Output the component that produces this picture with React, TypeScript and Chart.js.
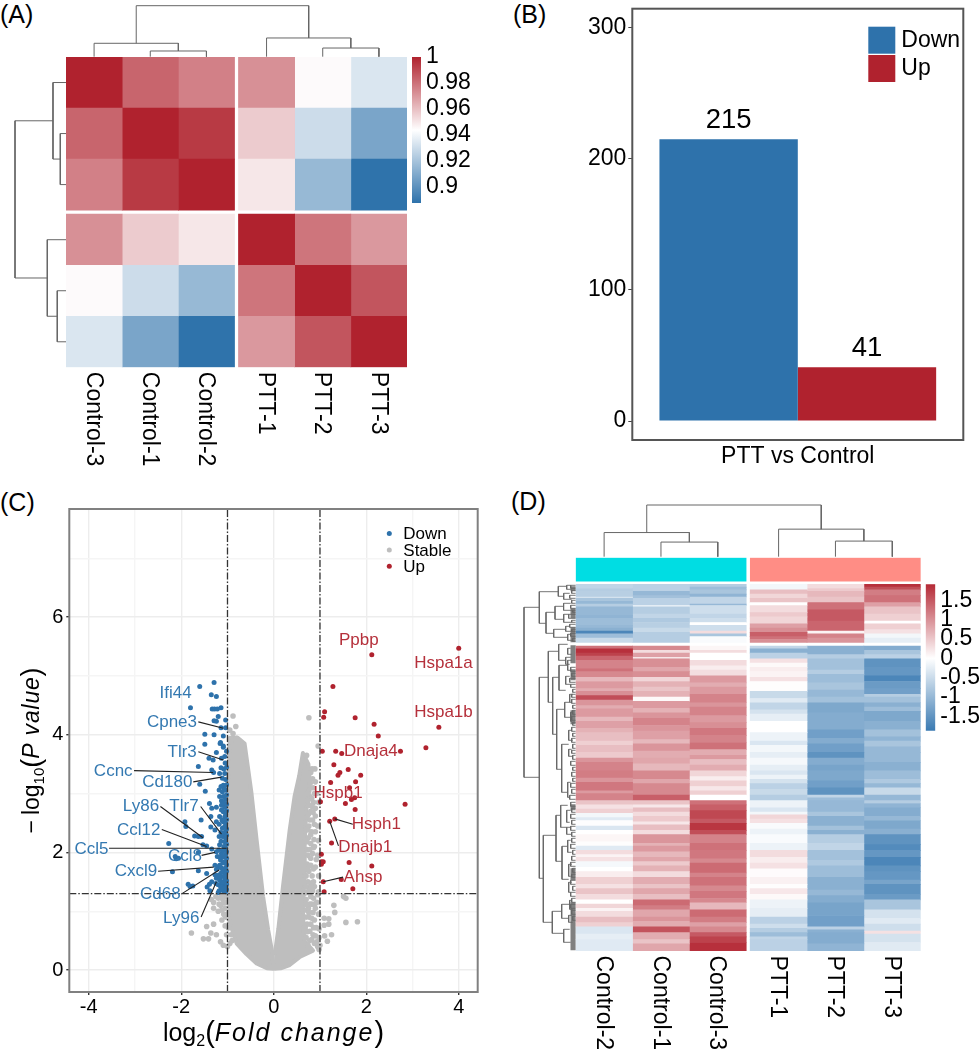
import React, { useEffect, useRef } from "react";
import { Chart, registerables } from "chart.js";

Chart.register(...registerables);

const FONT = '"Liberation Sans", Arial, sans-serif';
const BLUE = "#2E72AB";
const RED = "#B0222E";
const GRAY = "#BEBEBE";

/* ---------- Panel A ---------- */
const sampleLabelsA = ["Control-3", "Control-1", "Control-2", "PTT-1", "PTT-2", "PTT-3"];
const correlationA = [
  [1, 0.983, 0.976, 0.972, 0.945, 0.934],
  [0.983, 1, 0.994, 0.957, 0.93, 0.908],
  [0.976, 0.994, 1, 0.95, 0.916, 0.888],
  [0.972, 0.957, 0.95, 1, 0.979, 0.97],
  [0.945, 0.93, 0.916, 0.979, 1, 0.987],
  [0.934, 0.908, 0.888, 0.97, 0.987, 1],
];
const colCentersSix = [0.5, 1.5, 2.5, 3.57, 4.57, 5.57];
const rowEdgesA = [0, 1, 2, 3.08, 4.08, 5.08];
const treeTopA = [
  [1.5, 0, 2.5, 0, 0.112],
  [0.5, 0, 2.0, 0.112, 0.263],
  [4.57, 0, 5.57, 0, 0.17],
  [3.57, 0, 5.07, 0.17, 0.367],
  [1.25, 0.263, 4.32, 0.367, 1],
];
const treeLeftA = [
  [1.5, 0, 2.5, 0, 0.112],
  [0.5, 0, 2.0, 0.112, 0.255],
  [4.58, 0, 5.58, 0, 0.171],
  [3.58, 0, 5.08, 0.171, 0.367],
  [1.25, 0.255, 4.33, 0.367, 1],
];
const scaleA = [0.8877, 1];
const scaleMidA = 0.9438;

/* ---------- Panel B ---------- */
const categoriesB = ["PTT vs Control"];
const downCount = [215];
const upCount = [41];

/* ---------- Panel C ---------- */
const thresholdX = [-1, 1];
const thresholdY = 1.3;
const rangeXC = [-4.42, 4.41];
const rangeYC = [-0.374, 7.84];
const upPoints = [
  [4.0, 5.47], [2.12, 5.36], [1.28, 4.82], [1.1, 4.39], [1.08, 4.3], [1.76, 4.29], [2.17, 4.18], [3.57, 4.13], [2.26, 3.98],
  [3.29, 3.78], [1.05, 3.72], [1.34, 3.72], [1.47, 3.68], [2.74, 3.72], [1.3, 3.49], [1.61, 3.41], [1.43, 3.36], [1.39, 3.31],
  [1.88, 3.31], [1.77, 3.2], [1.23, 3.19], [1.64, 3.1], [1.75, 2.93], [1.68, 2.9], [1.55, 2.83], [1.01, 2.86], [2.84, 2.82],
  [1.76, 2.73], [1.32, 2.57], [1.21, 2.53], [1.25, 2.16], [1.03, 1.97], [1.03, 1.84], [1.07, 1.84], [1.03, 1.8], [1.63, 1.83],
  [2.12, 1.77], [1.46, 1.54], [1.07, 1.5], [1.71, 1.38], [1.09, 1.33],
];
const downPoints = [
  [-1.6, 4.82], [-1.29, 4.89], [-1.35, 4.68], [-1.24, 4.65], [-1.8, 4.46], [-1.33, 4.44], [-1.28, 4.44], [-1.22, 4.44], [-1.14, 4.46],
  [-1.2, 4.31], [-1.29, 4.24], [-1.24, 4.23], [-1.04, 4.25], [-1.14, 4.12], [-1.04, 4.12], [-1.49, 4.01], [-1.29, 4.0], [-1.09, 3.98],
  [-1.49, 3.84], [-1.15, 3.87], [-1.09, 3.81], [-1.16, 3.85], [-1.09, 3.79], [-1.24, 3.7], [-1.13, 3.6], [-1.06, 3.63], [-1.31, 3.57],
  [-1.4, 3.6], [-1.63, 3.46], [-1.34, 3.4], [-1.3, 3.36], [-1.17, 3.34], [-1.06, 3.34], [-1.11, 3.26], [-1.04, 3.24], [-1.6, 3.16],
  [-1.09, 3.14], [-1.18, 3.06], [-1.11, 3.03], [-1.04, 3.06], [-1.48, 3.04], [-1.17, 2.95], [-1.09, 2.95], [-1.04, 2.9], [-1.39, 2.83],
  [-1.24, 2.77], [-1.13, 2.8], [-1.06, 2.77], [-1.34, 2.75], [-1.09, 2.69], [-1.04, 2.64], [-1.17, 2.61], [-1.57, 2.55], [-1.92, 2.52],
  [-1.9, 2.44], [-1.36, 2.61], [-1.24, 2.52], [-1.09, 2.52], [-1.04, 2.49], [-1.36, 2.43], [-1.27, 2.38], [-1.11, 2.41], [-1.04, 2.35],
  [-1.71, 2.28], [-1.63, 2.27], [-1.56, 2.27], [-1.18, 2.27], [-1.11, 2.27], [-1.04, 2.24], [-2.27, 2.15], [-1.53, 2.13], [-1.45, 2.11],
  [-1.34, 2.06], [-1.17, 2.13], [-1.08, 2.1], [-1.04, 2.07], [-2.11, 1.89], [-2.13, 1.93], [-2.06, 1.9], [-1.63, 2.0], [-1.24, 2.01],
  [-1.13, 1.98], [-1.04, 1.96], [-1.22, 1.93], [-1.15, 1.87], [-1.06, 1.84], [-1.27, 1.78], [-1.2, 1.75], [-1.24, 1.71], [-1.17, 1.78],
  [-1.04, 1.73], [-1.09, 1.67], [-1.63, 1.69], [-2.19, 1.67], [-1.45, 1.64], [-1.18, 1.62], [-1.09, 1.59], [-1.04, 1.62], [-1.24, 1.56],
  [-1.17, 1.53], [-1.06, 1.53], [-1.34, 1.5], [-1.39, 1.46], [-1.85, 1.46], [-1.81, 1.42], [-1.75, 1.43], [-1.2, 1.45], [-1.11, 1.45],
  [-1.04, 1.42], [-1.44, 1.41], [-1.38, 1.35], [-1.18, 1.35], [-1.09, 1.35], [-1.2, 1.32], [-1.04, 1.33],
  [-1.02, 3.72], [-1.05, 3.52], [-1.02, 3.45], [-1.08, 3.42], [-1.14, 3.44], [-1.02, 3.15], [-1.07, 3.08], [-1.14, 3.12], [-1.02, 2.98],
  [-1.13, 2.88], [-1.02, 2.82], [-1.09, 2.84], [-1.02, 2.71], [-1.13, 2.72], [-1.06, 2.6], [-1.12, 2.55], [-1.02, 2.56], [-1.18, 2.48],
  [-1.06, 2.44], [-1.02, 2.4], [-1.14, 2.34], [-1.07, 2.33], [-1.02, 2.29], [-1.14, 2.19], [-1.06, 2.18], [-1.02, 2.14], [-1.1, 2.03],
  [-1.02, 2.01], [-1.19, 2.04], [-1.09, 1.92], [-1.02, 1.9], [-1.17, 1.92], [-1.1, 1.82], [-1.02, 1.79], [-1.14, 1.74], [-1.07, 1.72],
  [-1.13, 1.66], [-1.02, 1.68], [-1.16, 1.58], [-1.06, 1.58], [-1.13, 1.5], [-1.02, 1.52], [-1.09, 1.49], [-1.15, 1.42], [-1.02, 1.46],
  [-1.07, 1.39], [-1.13, 1.38], [-1.02, 1.37], [-1.25, 1.47], [-1.27, 1.62],
];
const grayScatter = [
  [0.76, 4.29], [0.96, 3.81], [0.71, 3.65], [0.68, 3.55], [0.89, 3.42], [0.8, 3.36], [0.9, 3.2], [0.85, 3.1], [0.93, 3.0], [0.78, 2.95],
  [0.97, 2.85], [0.8, 2.7], [0.9, 2.62], [0.72, 2.6], [0.95, 2.45], [0.82, 2.35], [0.97, 2.2], [0.75, 2.25], [0.88, 2.1], [0.95, 1.95],
  [0.8, 1.9], [0.72, 1.8], [0.9, 1.75], [0.83, 1.6], [0.97, 1.6], [0.74, 1.5], [0.88, 1.42], [0.97, 1.33], [0.8, 1.25], [0.7, 1.2],
  [0.93, 1.15], [0.75, 1.05], [0.85, 0.98], [0.97, 0.95], [0.7, 0.9], [0.8, 0.78], [0.92, 0.72], [0.72, 0.65], [0.85, 0.6], [0.98, 0.55],
  [0.78, 0.5], [0.93, 0.48], [1.09, 0.88], [1.19, 0.87], [1.19, 0.78], [1.09, 0.76], [1.1, 0.58], [1.25, 0.6], [1.16, 0.49], [1.32, 0.98],
  [1.3, 1.1], [1.56, 0.81], [1.81, 0.82], [1.56, 1.22], [1.51, 1.25],
  [0.84, 3.25], [0.76, 3.05], [0.86, 2.85], [0.76, 2.8], [0.84, 2.55], [0.76, 2.45], [0.9, 2.35], [0.8, 2.15], [0.72, 2.05], [0.84, 1.98],
  [0.76, 1.68], [0.7, 1.6], [0.78, 1.42], [0.72, 1.32], [0.86, 1.22], [0.78, 1.12], [0.7, 1.02], [0.88, 0.85], [0.76, 0.9], [0.98, 0.7],
  [0.88, 0.45], [0.95, 0.4], [0.74, 0.42], [1.0, 0.42], [0.9, 1.05], [0.95, 1.28], [0.86, 1.5], [0.92, 1.88], [0.87, 2.22], [0.9, 2.75],
  [0.73, 3.3], [0.79, 3.18], [0.88, 3.0], [0.82, 2.92], [0.74, 2.88], [0.83, 2.78], [0.75, 2.65], [0.85, 2.68], [0.78, 2.55], [0.88, 2.48],
  [0.74, 2.38], [0.8, 2.3], [0.72, 2.18], [0.78, 2.05], [0.86, 2.08], [0.74, 1.95], [0.8, 1.78], [0.86, 1.72], [0.74, 1.72], [0.7, 1.42],
  [0.82, 1.48], [0.76, 1.35], [0.84, 1.35], [0.7, 1.12], [0.82, 1.12], [0.88, 1.12], [0.76, 0.98], [0.82, 0.88], [0.72, 0.78], [0.86, 0.72],
  [0.78, 0.66], [0.7, 0.55], [0.82, 0.52], [0.9, 0.58], [0.98, 0.35], [0.68, 0.72], [0.66, 1.3], [0.7, 2.4], [0.74, 3.0], [0.83, 3.42],
  [-0.88, 4.32], [-0.82, 4.14], [-0.95, 4.08], [-0.88, 4.02], [-0.8, 3.94], [-0.92, 3.88], [-0.75, 3.9], [-1.78, 0.63], [-1.52, 0.53],
  [-1.41, 0.53], [-1.36, 0.63], [-1.24, 0.6], [-1.45, 0.74], [-1.3, 0.78], [-1.09, 0.42], [-1.15, 0.48], [-1.0, 0.4], [-0.95, 0.45],
  [-1.2, 1.0], [-1.15, 1.1], [-1.3, 1.15], [-1.25, 1.25], [-1.1, 1.2], [-1.08, 0.95], [-1.05, 0.75], [-1.12, 0.85], [-1.35, 1.2],
  [-0.92, 0.6], [-1.02, 0.6], [-1.05, 1.25], [-1.12, 1.27], [-1.2, 1.22], [-1.3, 1.05], [-1.18, 1.12], [-1.05, 1.05], [-1.12, 1.02],
  [-1.04, 0.9], [-0.98, 0.72], [-0.9, 0.5], [-1.02, 1.15], [-1.08, 1.14],
];
// Outlines of the dense grey wedges. First/last vertices are the x extremes.
const grayLeftOutline = [
  [-1.0, 1.2], [-1.0, 3.0], [-0.95, 3.95], [-0.78, 3.95], [-0.63, 3.85], [-0.55, 3.4], [-0.48, 3.0], [-0.37, 2.21], [-0.23, 1.25],
  [-0.12, 0.68], [-0.02, 0.25], [-0.01, 0.02], [-0.15, 0.03], [-0.37, 0.11], [-0.59, 0.27], [-0.8, 0.45], [-0.95, 0.8], [-0.995, 1.0],
];
const grayRightOutline = [
  [0.02, 0.25], [0.1, 0.7], [0.2, 1.42], [0.345, 2.38], [0.45, 2.95], [0.55, 3.3], [0.63, 3.69], [0.75, 3.5], [0.78, 3.18], [0.71, 2.78],
  [0.67, 2.2], [0.67, 1.64], [0.63, 1.02], [0.66, 0.5], [0.85, 0.33], [0.56, 0.22], [0.345, 0.085], [0.15, 0.03], [0.01, 0.02],
];
const leaderSegments = [
  [-1.63, 4.22, -1.09, 4.11], [-1.63, 3.71, -1.09, 3.57], [-3.02, 3.39, -1.31, 3.36], [-1.74, 3.2, -1.13, 3.28], [-2.45, 2.78, -1.53, 2.25],
  [-1.58, 2.78, -1.13, 2.31], [-2.42, 2.39, -1.45, 2.1], [-3.56, 2.07, -1.02, 2.07], [-1.56, 1.95, -1.27, 2.0], [-2.5, 1.68, -1.3, 1.75],
  [-2.0, 1.29, -1.18, 1.7], [-1.57, 0.9, -1.24, 1.5], [1.32, 2.57, 1.71, 2.48], [1.21, 2.53, 1.4, 2.11], [1.07, 1.5, 1.5, 1.58],
];
const downGeneLabels: [string, number, number][] = [
  ["Ifi44", -2.12, 4.71], ["Cpne3", -2.2, 4.21], ["Tlr3", -1.98, 3.7], ["Ccnc", -3.47, 3.38], ["Cd180", -2.3, 3.2], ["Ly86", -2.87, 2.78],
  ["Tlr7", -1.94, 2.79], ["Ccl12", -2.92, 2.38], ["Ccl5", -3.94, 2.06], ["Ccl8", -1.92, 1.94], ["Cxcl9", -2.98, 1.68], ["Cd68", -2.45, 1.29],
  ["Ly96", -2.0, 0.88],
];
const upGeneLabels: [string, number, number][] = [
  ["Ppbp", 1.84, 5.6], ["Hspa1a", 3.67, 5.22], ["Hspa1b", 3.67, 4.38], ["Dnaja4", 2.1, 3.72], ["Hspb1", 1.39, 3.0], ["Hsph1", 2.22, 2.48],
  ["Dnajb1", 1.98, 2.08], ["Ahsp", 1.93, 1.57],
];

/* ---------- Panel D ---------- */
const sampleLabelsD = ["Control-2", "Control-1", "Control-3", "PTT-1", "PTT-2", "PTT-3"];
const ctrl2Top = [[3, -0.5], [2, -0.6], [4, -0.58], [1, -0.35], [2, -0.7], [2, -0.85], [2, -0.6], [6, -0.85], [2, -0.9], [5, -0.8], [2, -0.85], [2, -0.95], [2, -1.45], [3, -0.8], [3, -0.45]];
const ctrl1Top = [[5, -0.55], [3, -0.85], [2, -0.75], [5, -0.55], [1, -0.15], [5, -0.6], [3, -0.5], [3, -0.65], [4, -0.58], [3, -0.45], [7, -0.6]];
const ctrl3Top = [[2, -0.6], [2, -0.8], [3, -0.7], [2, -0.9], [5, -0.5], [1, -0.85], [6, -0.4], [3, -0.5], [3, -0.4], [2, 0], [4, -0.4], [2, 0.3], [2, -0.7], [4, -0.05]];
const ptt1Top = [[4, -0.1], [3, 0.55], [3, 0.35], [3, 0.5], [2, 0], [5, 0.3], [3, 0.45], [5, 0.35], [3, 0.8], [3, 0.95], [3, 1.35], [2, 1.2], [2, 0.95]];
const ptt2Top = [[3, 0.3], [2, 0.45], [4, 0.6], [4, 0.5], [5, 1.2], [8, 1.4], [7, 1.3], [2, 0.1], [3, 1.05], [3, 0.9]];
const ptt3Top = [[2, 1.75], [2, 1.5], [4, 1.1], [5, 1.2], [3, 0.8], [5, 0.5], [5, 0.4], [2, 0], [4, 0.4], [3, 0.25], [3, -0.1], [3, -0.2]];
const ctrl2Bottom = [[2, 1.2], [3, 1.75], [2, 1.6], [3, 1.3], [6, 1.05], [2, 1.2], [4, 1.0], [3, 0.6], [5, 0.85], [2, 0.7], [3, 0.95], [3, 1.5], [4, 0.9], [2, 0.7], [6, 0.85], [3, 0.6], [5, 0.8], [3, 0.65], [6, 0.55], [3, 0.4], [5, 0.55], [4, 0.45], [3, 0.9], [6, 1.05], [5, 1.1], [3, 0.9], [6, 1.15], [2, 0.85], [5, 1.05], [3, 0.5], [3, 0.25], [3, 0.4], [3, -0.1], [2, -0.25], [4, -0.02], [3, -0.3], [3, 0], [5, 0.08], [3, 0.02], [3, -0.25], [3, 0.3], [2, 0.1], [3, 0.25], [4, -0.08], [3, 0], [4, 0.15], [5, 0.4], [3, 0.25], [4, 0.5], [4, 0.3], [3, 0], [3, 0.35], [2, 0.1], [4, 0.3], [4, 0.55], [3, 0.4], [5, -0.3], [4, -0.2], [8, -0.25]];
const ctrl1Bottom = [[3, 1.0], [2, 0.3], [3, 0.8], [1, 0.2], [6, 0.95], [3, 0.75], [4, 0.95], [3, 0.35], [4, 0.65], [3, 0.5], [4, 0.65], [3, 0.05], [5, 0.85], [3, 0.65], [4, 0.9], [5, 1.05], [4, 0.9], [6, 0.8], [3, 0.6], [5, 0.9], [5, 0.7], [4, 0.75], [5, 0.6], [6, 1.0], [3, 0.75], [8, 1.0], [4, 1.35], [3, 0.5], [2, 0.2], [3, 0.55], [3, 0.3], [4, 0.45], [2, 0.2], [4, 0.55], [3, 0.3], [6, 0.9], [2, 0.65], [4, 0.85], [4, 0.6], [3, 0.75], [3, 0.45], [4, 0.65], [4, 0.3], [5, 0.7], [3, 0.5], [4, 0.75], [4, 0.55], [4, 1.25], [3, 1.1], [5, 0.75], [3, 0.9], [4, 0.7], [4, 1.45], [5, 0.7], [3, 0.5], [5, 0.75]];
const ctrl3Bottom = [[3, 0.08], [2, 0.3], [5, 0], [4, 0.3], [3, 0.15], [4, 0.28], [5, 0.85], [3, 0.7], [5, 0.85], [6, 1.05], [3, 0.9], [6, 1.05], [5, 0.85], [4, 0.95], [5, 1.15], [5, 1.05], [5, 1.2], [4, 0.7], [3, 0.85], [4, 0.55], [4, 0.7], [4, 0.35], [3, 0.15], [4, 0.4], [3, 0.2], [3, 0.4], [4, 0], [3, 1.2], [4, 1.35], [6, 1.55], [3, 1.4], [5, 1.7], [3, 1.5], [6, 1.05], [5, 1.2], [6, 1.15], [3, 1.0], [7, 1.25], [3, 1.05], [6, 1.2], [4, 1.0], [5, 1.15], [3, 1.0], [5, 0.6], [5, 1.25], [4, 1.1], [3, 0.8], [4, 1.0], [3, 1.4], [4, 1.6], [6, 1.75]];
const ptt1Bottom = [[2, -0.5], [3, -0.95], [4, -0.55], [3, 0.25], [3, 0.05], [3, 0.15], [4, 0.1], [3, 0.25], [7, 0.02], [5, -0.45], [3, -0.25], [5, -0.5], [3, -0.35], [5, -0.2], [8, 0], [6, -0.15], [3, -0.3], [5, -0.1], [4, -0.2], [5, -0.08], [4, -0.2], [3, -0.3], [3, -0.15], [3, -0.35], [4, -0.55], [4, -0.45], [4, -0.6], [5, -0.15], [3, -0.3], [2, -0.1], [3, 0.35], [3, 0.25], [4, -0.05], [4, -0.15], [6, -0.05], [5, -0.15], [5, 0.3], [4, 0.15], [4, 0.25], [6, 0.03], [5, 0.12], [3, 0.02], [4, 0.2], [4, 0.05], [6, -0.15], [6, -0.2], [5, -0.55], [3, -0.4], [3, -0.6], [3, -0.8], [2, -0.5], [8, -0.55]];
const ptt2Bottom = [[6, -0.95], [3, -0.6], [8, -0.75], [3, -0.6], [6, -0.8], [5, -0.7], [5, -0.85], [4, -0.75], [7, -1.05], [5, -1.0], [7, -1.0], [6, -1.15], [4, -1.0], [6, -1.15], [4, -1.3], [5, -1.0], [4, -1.1], [7, -1.05], [5, -1.15], [5, -1.3], [2, -0.5], [2, -0.8], [8, -0.85], [3, -0.7], [7, -0.95], [3, -0.75], [3, -0.95], [6, -0.6], [5, -0.5], [7, -0.75], [4, -0.65], [8, -0.8], [9, -0.95], [4, -0.85], [5, -1.0], [9, -1.1], [8, -1.15], [2, -0.55], [2, -0.95], [8, -1], [5, -0.9]];
const ptt3Bottom = [[3, -1.0], [3, -0.7], [3, -0.55], [6, -1.3], [6, -1.25], [4, -1.45], [5, -1.2], [4, -1.15], [2, -0.6], [4, -0.75], [3, -0.95], [3, -0.8], [7, -1.05], [6, -0.95], [5, -0.75], [3, -0.9], [4, -0.7], [4, -0.85], [7, -0.85], [6, -0.95], [6, -0.8], [3, -0.65], [3, -0.85], [5, -0.45], [4, -0.85], [2, -0.6], [3, -0.9], [6, -1.0], [3, -0.85], [6, -1.05], [4, -0.95], [7, -1.3], [4, -1.4], [5, -1.25], [6, -1.45], [4, -1.3], [6, -1.25], [3, -1.1], [7, -1.3], [4, -1.2], [7, -0.7], [6, -0.35], [4, -0.25], [5, -0.4], [2, 0.25], [6, -0.35], [6, -0.25]];
const topBlocksD = [ctrl2Top, ctrl1Top, ctrl3Top, ptt1Top, ptt2Top, ptt3Top];
const bottomBlocksD = [ctrl2Bottom, ctrl1Bottom, ctrl3Bottom, ptt1Bottom, ptt2Bottom, ptt3Bottom];
const rowGapD = 2.6;
const groupBandRows = [-18.7, -2.1];
const groupColours = ["#00DDE3", "#FF8D85"];
const groupCenters = [1.5, 4.57];
const treeTopD = [
  [1.5, 0, 2.5, 0, 0.283],
  [0.5, 0, 2.0, 0.283, 0.467],
  [4.57, 0, 5.57, 0, 0.302],
  [3.57, 0, 5.07, 0.302, 0.533],
  [1.25, 0.467, 4.32, 0.533, 1],
];
// tree merges: [height, y of child 1, height of child 1, y of child 2, height of child 2]
const treeLeftD = [
  [51.7, 23, 36.4, 193, 36.4], [36.4, 7.4, 17.4, 39, 29.7], [17.4, 2, 9, 12, 12], [29.7, 28, 20.7, 49, 22], [20.7, 22, 12, 35, 12],
  [22, 45, 10, 53, 8], [36.4, 93, 27.4, 294, 32.4], [27.4, 67, 17, 118, 23], [17, 60, 8, 76, 10], [23, 93, 16.7, 150, 19], [16.7, 81, 8, 106, 10],
  [19, 125, 11, 185, 14], [11, 118, 6, 133, 5], [14, 160, 7, 208, 8], [32.4, 251, 19.7, 338, 23.4], [19.7, 231, 15, 277, 13.7],
  [15, 221, 8, 243, 9], [13.7, 262, 8, 295, 7], [23.4, 327, 14, 349, 12], [14, 320, 6, 334, 7], [12, 345, 6, 358, 5],
  [9, 1, 5, 5, 4], [12, 9, 6, 15, 4], [12.1, 19, 5, 26, 3], [12, 30, 7, 38, 4], [10, 42, 6, 47, 4], [8, 50, 5, 56, 3], [8, 64, 5, 70, 4],
  [10, 73, 5, 80, 6], [8, 76, 4, 86, 5], [10, 92, 6, 100, 5], [6, 110, 3, 118, 4], [5, 128, 3, 137, 4], [7, 146, 4, 156, 3], [7, 165, 4, 172, 3],
  [8, 198, 5, 213, 6], [9, 226, 5, 238, 6], [9, 243, 5, 250, 4], [8, 256, 5, 268, 4], [7, 280, 4, 292, 5], [7, 298, 4, 308, 5], [6, 316, 4, 325, 3],
  [7, 331, 4, 338, 3],
];
const fringeLeftD = [
  [5, 1, 4], [4, 6, 9], [6, 11, 14], [4, 16, 19], [5, 21, 24], [3, 26, 28], [7, 30, 34], [4, 36, 38], [6, 40, 43], [4, 45, 47], [5, 49, 52], [3, 54, 57],
  [5, 83, 87], [4, 89, 92], [6, 94, 98], [5, 100, 103], [3, 105, 108], [4, 110, 113], [4, 115, 119], [3, 121, 124], [3, 126, 130], [4, 132, 136], [3, 138, 141],
  [4, 143, 147], [3, 149, 152], [4, 154, 158], [3, 160, 164], [4, 166, 169], [3, 171, 175], [5, 177, 181], [3, 183, 186], [4, 188, 192], [3, 194, 197], [5, 199, 203],
  [4, 205, 209], [6, 211, 215], [5, 218, 222], [4, 224, 228], [5, 230, 234], [4, 236, 240], [5, 242, 246], [4, 248, 252], [4, 254, 258], [5, 260, 264], [3, 266, 270],
  [4, 272, 276], [5, 278, 282], [3, 284, 288], [4, 290, 293], [5, 296, 300], [3, 302, 306], [5, 308, 312], [4, 314, 318], [5, 320, 324], [4, 326, 330], [3, 332, 336],
];
const leafStripsD = [[61, 79], [2, 7], [24, 34], [43, 58], [85, 96], [126, 140], [220, 226], [284, 296], [318, 366]];
const scaleD = [-1.876, 1.917];

/* ---------- helpers ---------- */
function mix(a: number[], b: number[], t: number) {
  return `rgb(${a.map((v, i) => Math.round(v + (b[i] - v) * t)).join(",")})`;
}
const hexRgb = (h: string) => [1, 3, 5].map((i) => parseInt(h.slice(i, i + 2), 16));
function divergent(v: number, lo: number, mid: number, hi: number, loHex: string, hiHex: string) {
  const white = [255, 255, 255];
  return v >= mid
    ? mix(white, hexRgb(hiHex), Math.min(1, (v - mid) / (hi - mid)))
    : mix(white, hexRgb(loHex), Math.min(1, (mid - v) / (mid - lo)));
}
const colourA = (v: number) => divergent(v, scaleA[0], scaleMidA, scaleA[1], BLUE, RED);
const colourD = (v: number) => divergent(v, -1.6, 0, 1.8, "#3A7AB2", "#B52A36");

const xy = (list: number[][]) => list.map(([x, y]) => ({ x, y }));
const BREAK = { x: NaN, y: NaN };
function treePoints(merges: number[][]) {
  const pts: any[] = [];
  for (const [a, ha, b, hb, h] of merges) pts.push({ x: a, y: ha }, { x: a, y: h }, { x: b, y: h }, { x: b, y: hb }, BREAK);
  return pts;
}
function treePointsSide(merges: number[][]) {
  const pts: any[] = [];
  for (const [a, ha, b, hb, h] of merges) pts.push({ x: ha, y: a }, { x: h, y: a }, { x: h, y: b }, { x: hb, y: b }, BREAK);
  return pts;
}
function treeListPoints(merges: number[][], fringe: number[][]) {
  const pts: any[] = [];
  for (const [h, y1, h1, y2, h2] of merges) pts.push({ x: h1, y: y1 }, { x: h, y: y1 }, { x: h, y: y2 }, { x: h2, y: y2 }, BREAK);
  for (const [h, y1, y2] of fringe) pts.push({ x: 0, y: y1 }, { x: h, y: y1 }, { x: h, y: y2 }, { x: 0, y: y2 }, BREAK);
  return pts;
}

type Area = { l: number; t: number; r: number; b: number };
type Margin = { l?: number; t?: number; r?: number; b?: number };
function boxFor(area: Area, m: Margin) {
  const left = Math.floor(area.l - (m.l || 0));
  const top = Math.floor(area.t - (m.t || 0));
  const right = Math.ceil(area.r + (m.r || 0));
  const bottom = Math.ceil(area.b + (m.b || 0));
  return {
    left, top, width: right - left, height: bottom - top,
    padding: { left: area.l - left, top: area.t - top, right: right - area.r, bottom: bottom - area.b },
  };
}
const baseOptions = (padding: any) => ({
  responsive: false,
  animation: false as const,
  events: [] as any[],
  layout: { padding },
  plugins: { legend: { display: false }, tooltip: { enabled: false } },
});
const hiddenLinear = (min: number, max: number, reverse = false, extra: any = {}) => ({
  type: "linear", display: false, min, max, reverse, offset: false, grid: { display: false }, ...extra,
});
// fixes an axis' thickness and stops its tick labels from insetting the plot area
const fitY = (w: number) => (s: any) => { s.width = w; s.paddingTop = 0; s.paddingBottom = 0; };
const fitX = (h: number) => (s: any) => { s.height = h; s.paddingLeft = 0; s.paddingRight = 0; };

function rotatedLabelsPlugin(labels: string[], centers: number[], startGap: number, size: number) {
  return {
    id: "rotatedLabels",
    afterDraw(chart: any) {
      const { ctx, chartArea, scales } = chart;
      ctx.save();
      ctx.fillStyle = "#000";
      ctx.font = `${size}px ${FONT}`;
      ctx.textAlign = "left";
      ctx.textBaseline = "middle";
      labels.forEach((t, i) => {
        ctx.save();
        ctx.translate(scales.x.getPixelForValue(centers[i]), chartArea.bottom + startGap);
        ctx.rotate(Math.PI / 2);
        ctx.fillText(t, 0, 1);
        ctx.restore();
      });
      ctx.restore();
    },
  };
}

/* ---------- chart configs ---------- */
const heatAreaA = { l: 66, t: 57, r: 407, b: 367.3 };
const heatBoxA = boxFor(heatAreaA, { b: 100 });
function heatConfigA(): any {
  const datasets = colCentersSix.map((cx, c) => ({
    label: sampleLabelsA[c],
    barThickness: 56.2,
    grouped: false,
    data: correlationA.map((row, r) => ({ x: cx, y: [rowEdgesA[r], rowEdgesA[r] + 1] })),
    backgroundColor: correlationA.map((row) => colourA(row[c])),
    borderWidth: 0,
  }));
  return {
    type: "bar",
    data: { datasets },
    options: {
      ...baseOptions(heatBoxA.padding),
      scales: { x: hiddenLinear(0, 6.07), y: hiddenLinear(0, 6.08, true) },
    },
    plugins: [rotatedLabelsPlugin(sampleLabelsA, colCentersSix, 4.5, 23)],
  };
}
const lineDs = (data: any[], label: string, extra: any = {}) => ({
  type: "scatter", label, data, showLine: true, pointRadius: 0, borderColor: "#666", borderWidth: 1, clip: false, spanGaps: false, ...extra,
});
const treeTopAreaA = { l: 66, t: 5.7, r: 407, b: 56.7 };
const treeTopBoxA = boxFor(treeTopAreaA, { t: 3, b: 2 });
const treeTopConfigA = (): any => ({
  type: "scatter",
  data: { datasets: [lineDs(treePoints(treeTopA), "sample tree")] },
  options: { ...baseOptions(treeTopBoxA.padding), scales: { x: hiddenLinear(0, 6.07), y: hiddenLinear(0, 1) } },
});
const treeLeftAreaA = { l: 15, t: 57, r: 66, b: 367.3 };
const treeLeftBoxA = boxFor(treeLeftAreaA, { l: 3, r: 0 });
const treeLeftConfigA = (): any => ({
  type: "scatter",
  data: { datasets: [lineDs(treePointsSide(treeLeftA), "row tree")] },
  options: { ...baseOptions(treeLeftBoxA.padding), scales: { x: hiddenLinear(0, 1, true), y: hiddenLinear(0, 6.08, true) } },
});

function colourbarConfig(range: number[], mid: number, lowHex: string, highHex: string, step: number, padding: any, axisW: number): any {
  return {
    type: "bar",
    data: {
      labels: [""],
      datasets: [{
        label: "scale",
        data: [range],
        borderWidth: 0,
        categoryPercentage: 1,
        barPercentage: 1,
        backgroundColor: (c: any) => {
          const a = c.chart.chartArea;
          if (!a) return lowHex;
          const g = c.chart.ctx.createLinearGradient(0, a.bottom, 0, a.top);
          g.addColorStop(0, lowHex);
          g.addColorStop((mid - range[0]) / (range[1] - range[0]), "#FFFFFF");
          g.addColorStop(1, highHex);
          return g;
        },
      }],
    },
    options: {
      ...baseOptions({ left: padding.left, top: padding.top, right: 0, bottom: padding.bottom }),
      scales: {
        x: { display: false, grid: { display: false } },
        y: {
          position: "right",
          min: range[0],
          max: range[1],
          afterFit: fitY(axisW),
          grid: { display: false, drawTicks: false },
          border: { display: false },
          ticks: {
            stepSize: step, includeBounds: false, autoSkip: false, padding: 5, color: "#000",
            font: { family: FONT, size: 23 },
            callback: (v: number) => String(+v.toFixed(2)),
          },
        },
      },
    },
  };
}
const barAreaA = { l: 412, t: 57, r: 421, b: 203 };
const barBoxA = boxFor(barAreaA, { t: 16, b: 4, r: 58 });
const barBoxD = boxFor({ l: 925.7, t: 584.3, r: 935.3, b: 730.7 }, { t: 4, b: 4, r: 43 });

const frame = (color: string, w: number) => ({
  id: "frame",
  afterDraw(chart: any) {
    const { ctx, chartArea: a } = chart;
    ctx.save();
    ctx.strokeStyle = color;
    ctx.lineWidth = w;
    ctx.strokeRect(a.left, a.top, a.right - a.left, a.bottom - a.top);
    ctx.restore();
  },
});

const areaB = { l: 632.3, t: 8.7, r: 963.3, b: 440 };
const boxB = boxFor(areaB, { l: 72, t: 4, r: 8, b: 30 });
function configB(): any {
  return {
    type: "bar",
    data: {
      labels: categoriesB,
      datasets: [
        { label: "Down", data: downCount, backgroundColor: BLUE, categoryPercentage: 0.836, barPercentage: 1, borderWidth: 0 },
        { label: "Up", data: upCount, backgroundColor: RED, categoryPercentage: 0.836, barPercentage: 1, borderWidth: 0 },
      ],
    },
    options: {
      ...baseOptions({ left: 0, top: boxB.padding.top, right: boxB.padding.right, bottom: 0 }),
      scales: {
        x: {
          afterFit: fitX(boxB.padding.bottom),
          grid: { display: false, tickLength: 3, tickColor: "#444" },
          border: { display: false },
          ticks: { color: "#000", padding: 0, font: { family: FONT, size: 23 }, maxRotation: 0 },
        },
        y: {
          min: -14.5,
          max: 314.7,
          afterFit: fitY(boxB.padding.left),
          grid: { drawOnChartArea: false, tickLength: 4, tickColor: "#444" },
          border: { display: false },
          ticks: { stepSize: 100, includeBounds: false, color: "#000", padding: 2, font: { family: FONT, size: 23 } },
        },
      },
    },
    plugins: [
      frame("#555", 2),
      {
        id: "barValues",
        afterDatasetsDraw(chart: any) {
          const { ctx } = chart;
          ctx.save();
          ctx.font = `27.5px ${FONT}`;
          ctx.fillStyle = "#000";
          ctx.textAlign = "center";
          ctx.textBaseline = "middle";
          chart.data.datasets.forEach((ds: any, i: number) => {
            const el = chart.getDatasetMeta(i).data[0];
            ctx.fillText(String(ds.data[0]), el.x, el.y - 19);
          });
          ctx.restore();
        },
      },
      {
        id: "legendB",
        afterDraw(chart: any) {
          const { ctx, chartArea: a } = chart;
          ctx.save();
          ctx.font = `23px ${FONT}`;
          ctx.textBaseline = "middle";
          chart.data.datasets.forEach((ds: any, i: number) => {
            const y = a.top + 18 + i * 28.3;
            ctx.fillStyle = ds.backgroundColor;
            ctx.fillRect(a.right - 95, y, 27, 27);
            ctx.fillStyle = "#000";
            ctx.fillText(ds.label, a.right - 62, y + 14);
          });
          ctx.restore();
        },
      },
    ],
  };
}

const areaC = { l: 69.3, t: 509, r: 477.7, b: 992 };
const boxC = boxFor(areaC, { l: 69, t: 10, r: 6, b: 57 });
function drawRich(ctx: any, parts: any[], cx: number, cy: number, rotate: boolean) {
  ctx.save();
  ctx.translate(cx, cy);
  if (rotate) ctx.rotate(-Math.PI / 2);
  ctx.textAlign = "left";
  ctx.textBaseline = "alphabetic";
  ctx.fillStyle = "#000";
  let w = 0;
  for (const p of parts) {
    ctx.font = p.font;
    ctx.letterSpacing = p.spacing || "0px";
    w += ctx.measureText(p.text).width;
  }
  let x = -w / 2;
  for (const p of parts) {
    ctx.font = p.font;
    ctx.letterSpacing = p.spacing || "0px";
    ctx.fillText(p.text, x, p.dy || 0);
    x += ctx.measureText(p.text).width;
  }
  ctx.letterSpacing = "0px";
  ctx.restore();
}
function configC(): any {
  const evenColor = (c: any, even: string, odd: string) => (Math.abs(c.tick.value % 2) < 1e-6 ? even : odd);
  return {
    type: "scatter",
    data: {
      datasets: [
        lineDs([{ x: thresholdX[0], y: rangeYC[0] }, { x: thresholdX[0], y: rangeYC[1] }, BREAK, { x: thresholdX[1], y: rangeYC[0] }, { x: thresholdX[1], y: rangeYC[1] }, BREAK, { x: rangeXC[0], y: thresholdY }, { x: rangeXC[1], y: thresholdY }], "thresholds", { borderColor: "#333", borderWidth: 1.3, borderDash: [7, 2, 1.5, 2], clip: true }),
        lineDs(leaderSegments.flatMap(([a, b, c, d]) => [{ x: a, y: b }, { x: c, y: d }, BREAK]), "leaders", { borderColor: "#222", borderWidth: 1.1 }),
        { label: "Up", data: xy(upPoints), backgroundColor: RED, pointRadius: 2.5, borderWidth: 0 },
        { label: "Down", data: xy(downPoints), backgroundColor: BLUE, pointRadius: 2.5, borderWidth: 0 },
        { label: "Stable", data: xy(grayScatter), backgroundColor: GRAY, pointRadius: 2.8, borderWidth: 0 },
        lineDs(xy(grayLeftOutline), "Stable core left", { borderColor: GRAY, borderWidth: 4, borderJoinStyle: "round", backgroundColor: GRAY, fill: "shape" }),
        lineDs(xy(grayRightOutline), "Stable core right", { borderColor: GRAY, borderWidth: 4, borderJoinStyle: "round", backgroundColor: GRAY, fill: "shape" }),
      ],
    },
    options: {
      ...baseOptions({ left: 0, top: boxC.padding.top, right: boxC.padding.right, bottom: 0 }),
      scales: {
        x: {
          type: "linear",
          min: rangeXC[0],
          max: rangeXC[1],
          afterFit: fitX(boxC.padding.bottom),
          grid: { color: (c: any) => evenColor(c, "#EDEDED", "#F5F5F5"), lineWidth: 1.4, tickLength: 3, tickColor: (c: any) => evenColor(c, "#333", "rgba(0,0,0,0)") },
          border: { display: false },
          ticks: { stepSize: 1, includeBounds: false, autoSkip: false, maxRotation: 0, padding: 0, color: "#000", font: { family: FONT, size: 20 }, callback: (v: number) => (v % 2 === 0 ? String(v) : "") },
        },
        y: {
          min: rangeYC[0],
          max: rangeYC[1],
          afterFit: fitY(boxC.padding.left),
          grid: { color: (c: any) => evenColor(c, "#EDEDED", "#F5F5F5"), lineWidth: 1.4, tickLength: 3, tickColor: (c: any) => evenColor(c, "#333", "rgba(0,0,0,0)") },
          border: { display: false },
          ticks: { stepSize: 1, includeBounds: false, autoSkip: false, padding: 3, color: "#000", font: { family: FONT, size: 20 }, callback: (v: number) => (v % 2 === 0 ? String(v) : "") },
        },
      },
    },
    plugins: [
      frame("#808080", 2),
      {
        id: "geneText",
        afterDatasetsDraw(chart: any) {
          const { ctx, scales } = chart;
          ctx.save();
          ctx.font = `17px ${FONT}`;
          ctx.textAlign = "center";
          ctx.textBaseline = "middle";
          ctx.fillStyle = "#3479B1";
          for (const [t, x, y] of downGeneLabels) ctx.fillText(t, scales.x.getPixelForValue(x), scales.y.getPixelForValue(y));
          ctx.fillStyle = "#B5303B";
          for (const [t, x, y] of upGeneLabels) ctx.fillText(t, scales.x.getPixelForValue(x), scales.y.getPixelForValue(y));
          ctx.restore();
        },
      },
      {
        id: "legendC",
        afterDraw(chart: any) {
          const { ctx, chartArea: a } = chart;
          const order = ["Down", "Stable", "Up"];
          ctx.save();
          ctx.font = `17px ${FONT}`;
          ctx.textBaseline = "middle";
          order.forEach((name, i) => {
            const ds = chart.data.datasets.find((d: any) => d.label === name);
            const y = a.top + 24.5 + i * 16.4;
            ctx.fillStyle = ds.backgroundColor;
            ctx.beginPath();
            ctx.arc(a.right - 88.4, y, 2.5, 0, Math.PI * 2);
            ctx.fill();
            ctx.fillStyle = "#000";
            ctx.fillText(name, a.right - 74.4, y + 1);
          });
          ctx.restore();
        },
      },
      {
        id: "titlesC",
        afterDraw(chart: any) {
          const { ctx } = chart;
          const off = { x: boxC.left, y: boxC.top };
          const big = `23px ${FONT}`;
          const small = `15px ${FONT}`;
          const paren = `27px ${FONT}`;
          drawRich(ctx, [
            { text: "−", font: big, spacing: "5px" }, { text: "log", font: big }, { text: "10", font: small, dy: 5 }, { text: "(", font: paren, dy: 1 },
            { text: "P value", font: `italic 23px ${FONT}`, spacing: "0.8px" }, { text: ")", font: paren, dy: 1 },
          ], 39 - off.x, 750.5 - off.y, true);
          drawRich(ctx, [
            { text: "log", font: `25px ${FONT}` }, { text: "2", font: `16px ${FONT}`, dy: 5 }, { text: "(", font: `29px ${FONT}`, dy: 1 },
            { text: "Fold change", font: `italic 25px ${FONT}`, spacing: "2px" }, { text: ")", font: `29px ${FONT}`, dy: 1 },
          ], 273.5 - off.x, 1040.7 - off.y, false);
        },
      },
    ],
  };
}

const heatAreaD = { l: 575.7, t: 557.7, r: 920.7, b: 951 };
const heatBoxD = boxFor(heatAreaD, { b: 99 });
function bandBars(cx: number, topBands: number[][], bottomBands: number[][]) {
  const data: any[] = [];
  const colours: string[] = [];
  let r = 0;
  for (const [n, v] of topBands) { data.push({ x: cx, y: [r, r + n] }); colours.push(colourD(v)); r += n; }
  r += rowGapD;
  for (const [n, v] of bottomBands) { data.push({ x: cx, y: [r, r + n] }); colours.push(colourD(v)); r += n; }
  return { data, colours };
}
function heatConfigD(): any {
  const datasets: any[] = colCentersSix.map((cx, c) => {
    const { data, colours } = bandBars(cx, topBlocksD[c], bottomBlocksD[c]);
    return { label: sampleLabelsD[c], barThickness: 56.9, grouped: false, data, backgroundColor: colours, borderWidth: 0 };
  });
  groupCenters.forEach((cx, i) => {
    datasets.push({ label: i === 0 ? "Control" : "PTT", barThickness: 170.3, grouped: false, data: [{ x: cx, y: groupBandRows }], backgroundColor: groupColours[i], borderWidth: 0 });
  });
  return {
    type: "bar",
    data: { datasets },
    options: { ...baseOptions(heatBoxD.padding), scales: { x: hiddenLinear(0, 6.07), y: hiddenLinear(-18.7, 258.6, true) } },
    plugins: [rotatedLabelsPlugin(sampleLabelsD, colCentersSix, 4.5, 23)],
  };
}
const treeTopAreaD = { l: 575.7, t: 505, r: 920.7, b: 556.7 };
const treeTopBoxD = boxFor(treeTopAreaD, { t: 3 });
const treeTopConfigD = (): any => ({
  type: "scatter",
  data: { datasets: [lineDs(treePoints(treeTopD), "sample tree")] },
  options: { ...baseOptions(treeTopBoxD.padding), scales: { x: hiddenLinear(0, 6.07), y: hiddenLinear(0, 1) } },
});
const treeLeftAreaD = { l: 524, t: 584.3, r: 575.7, b: 951 };
const treeLeftBoxD = boxFor(treeLeftAreaD, { l: 3 });
const treeLeftConfigD = (): any => ({
  type: "scatter",
  data: {
    datasets: [
      lineDs(treeListPoints(treeLeftD, fringeLeftD), "gene tree", { borderWidth: 0.9 }),
      lineDs(leafStripsD.flatMap(([a, b]) => [{ x: 2.6, y: a }, { x: 2.6, y: b }, BREAK]), "leaves", { borderWidth: 5.2, borderColor: "#808080" }),
    ],
  },
  options: { ...baseOptions(treeLeftBoxD.padding), scales: { x: hiddenLinear(0, 51.7, true), y: hiddenLinear(0, 366.7, true) } },
});

/* ---------- components ---------- */
function Panel({ box, make }: { box: { left: number; top: number; width: number; height: number }; make: () => any }) {
  const ref = useRef<HTMLCanvasElement>(null);
  useEffect(() => {
    const chart = new Chart(ref.current as any, make());
    return () => chart.destroy();
  }, []);
  return (
    <canvas
      ref={ref}
      width={box.width}
      height={box.height}
      style={{ position: "absolute", left: box.left, top: box.top, width: box.width, height: box.height, display: "block" }}
    />
  );
}
const tag = (t: string, left: number, top: number) => (
  <div key={t} style={{ position: "absolute", left, top, font: `25px/28px ${FONT}`, color: "#000" }}>{t}</div>
);

export default function App() {
  return (
    <div style={{ position: "absolute", left: 0, top: 0, width: 979, height: 1050, background: "#fff", overflow: "hidden" }}>
      {tag("(A)", 0, 0)}
      {tag("(B)", 513, 0)}
      {tag("(C)", 0, 488)}
      {tag("(D)", 511, 487)}
      <Panel box={treeTopBoxA} make={treeTopConfigA} />
      <Panel box={treeLeftBoxA} make={treeLeftConfigA} />
      <Panel box={heatBoxA} make={heatConfigA} />
      <Panel box={barBoxA} make={() => colourbarConfig(scaleA, scaleMidA, BLUE, RED, 0.02, barBoxA.padding, barBoxA.padding.right)} />
      <Panel box={boxB} make={configB} />
      <Panel box={boxC} make={configC} />
      <Panel box={treeTopBoxD} make={treeTopConfigD} />
      <Panel box={treeLeftBoxD} make={treeLeftConfigD} />
      <Panel box={heatBoxD} make={heatConfigD} />
      <Panel box={barBoxD} make={() => colourbarConfig(scaleD, 0, "#3A7AB2", "#B52A36", 0.5, barBoxD.padding, barBoxD.padding.right)} />
    </div>
  );
}
